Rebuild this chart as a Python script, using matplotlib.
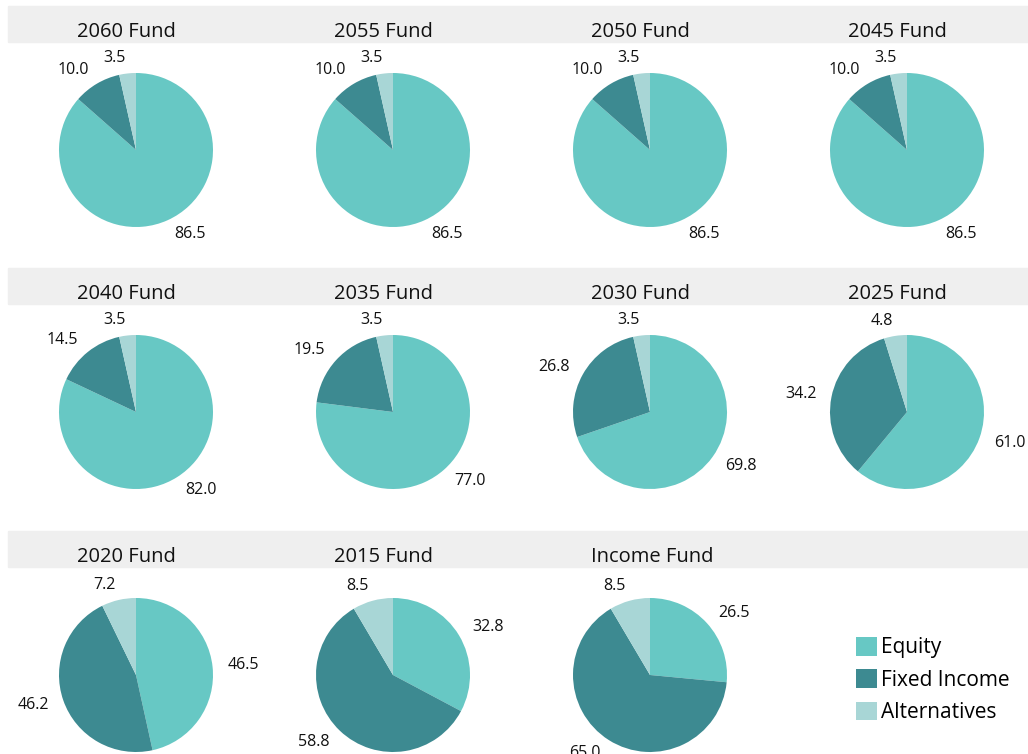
import matplotlib
matplotlib.use('Agg')
import matplotlib.pyplot as plt
from matplotlib.patches import Rectangle

plt.rcParams['font.family'] = ['Open Sans', 'DejaVu Sans']

funds = ['2060 Fund', '2055 Fund', '2050 Fund', '2045 Fund',
         '2040 Fund', '2035 Fund', '2030 Fund', '2025 Fund',
         '2020 Fund', '2015 Fund', 'Income Fund']
equity = [86.5, 86.5, 86.5, 86.5, 82.0, 77.0, 69.8, 61.0, 46.5, 32.8, 26.5]
fixed_income = [10.0, 10.0, 10.0, 10.0, 14.5, 19.5, 26.8, 34.2, 46.2, 58.8, 65.0]
alternatives = [3.5, 3.5, 3.5, 3.5, 3.5, 3.5, 3.5, 4.8, 7.2, 8.5, 8.5]
categories = ['Equity', 'Fixed Income', 'Alternatives']
colors = ['#67c8c4', '#3d8a91', '#a8d6d6']

W, H = 1028, 754
fig = plt.figure(figsize=(W / 100, H / 100), dpi=100)

row_tops = [6, 268, 531]   # pixel y of the grey strips
col_cx = [136, 393, 650, 907]  # pixel x of pie centres
radius_px = 77
lim = 1.5
box = 2 * lim * radius_px

# grey title strips
for top in row_tops:
    fig.patches.append(Rectangle((8 / W, 1 - (top + 36) / H), 1 - 8 / W, 36 / H,
                                 transform=fig.transFigure, color='#efefef',
                                 zorder=0))

wedges = None
for i, name in enumerate(funds):
    r, c = divmod(i, 4)
    cx = col_cx[c]
    cy = row_tops[r] + 144
    ax = fig.add_axes([(cx - box / 2) / W, 1 - (cy + box / 2) / H, box / W, box / H])
    vals = [equity[i], fixed_income[i], alternatives[i]]
    w, t = ax.pie(vals, colors=colors, startangle=90, counterclock=False,
                  labels=['%.1f' % v for v in vals], labeldistance=1.2,
                  textprops=dict(fontsize=11.5, color='#111111'),
                  wedgeprops=dict(linewidth=0))
    ax.set_xlim(-lim, lim)
    ax.set_ylim(-lim, lim)
    ax.axis('off')
    if wedges is None:
        wedges = w
    fig.text((cx - 59) / W, 1 - (row_tops[r] + 31) / H, name, ha='left',
             va='baseline', fontsize=14.5, color='#111111')

fig.legend(wedges, categories, loc='upper left',
           bbox_to_anchor=(856 / W, 1 - 637 / H), frameon=False, fontsize=15,
           handlelength=1.0, handleheight=1.0, handletextpad=0.2,
           labelspacing=0.52, borderpad=0, borderaxespad=0)

fig.savefig('out.png', dpi=100)
